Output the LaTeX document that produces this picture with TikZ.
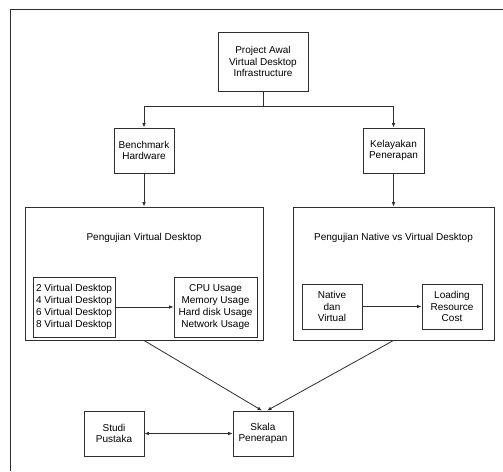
\documentclass[tikz,border=0pt]{standalone}
\usepackage{fontspec}
\setmainfont{Liberation Sans}
\usetikzlibrary{arrows.meta}
\definecolor{ln}{HTML}{2E2E2E}
\begin{document}
\begin{tikzpicture}[x=1pt,y=-1pt,
  box/.style={draw=ln,line width=0.9pt,fill=white,align=center,inner sep=0pt,
    font=\fontsize{10}{11.7}\selectfont,text=black},
  big/.style={draw=ln,line width=0.9pt,inner sep=0pt},
  lbl/.style={font=\fontsize{10}{11.7}\selectfont,inner sep=0pt},
  conn/.style={draw=ln,line width=0.8pt},
  arr/.style={conn,-{Latex[length=4.5pt,width=3.6pt]}},
  darr/.style={conn,{Latex[length=4.5pt,width=3.6pt]}-{Latex[length=4.5pt,width=3.6pt]}}]
\useasboundingbox (0,0) rectangle (503,471);
\fill[white] (0,0) rectangle (503,471);
% frame
\coordinate (fbl) at (10.7,471);
\coordinate (ftl) at (10.7,9.3);
\coordinate (ftr) at (503,9.3);
\draw[ln,line width=1pt] (fbl) -- (ftl) -- (ftr);
% top
\node[box,minimum width=90pt,minimum height=59pt] (proj) at (263,61.5) {Project Awal\\Virtual Desktop\\Infrastructure};
\node[box,minimum width=60pt,minimum height=45pt] (bench) at (144,150.5) {Benchmark\\Hardware};
\node[box,minimum width=61pt,minimum height=45pt] (kel) at (393.5,150.5) {Kelayakan\\Penerapan};
% big boxes
\node[big,minimum width=238pt,minimum height=133pt] (bigL) at (144,273.5) {};
\node[big,minimum width=201pt,minimum height=133pt] (bigR) at (393.5,273.5) {};
\node[lbl] (tL) at (144,238) {Pengujian Virtual Desktop};
\node[lbl] (tR) at (393.5,238) {Pengujian Native vs Virtual Desktop};
% inner boxes
\node[box,minimum width=82pt,minimum height=60pt,font=\fontsize{10}{12.1}\selectfont] (vd) at (74,307) {2 Virtual Desktop\\4 Virtual Desktop\\6 Virtual Desktop\\8 Virtual Desktop};
\node[box,minimum width=83pt,minimum height=60pt,font=\fontsize{10}{12.1}\selectfont] (cpu) at (215.5,307) {CPU Usage\\Memory Usage\\Hard disk Usage\\Network Usage};
\node[box,minimum width=60pt,minimum height=45pt] (nat) at (332,306.5) {Native\\dan\\Virtual};
\node[box,minimum width=60pt,minimum height=45pt] (load) at (452,306.5) {Loading\\Resource\\Cost};
% bottom
\node[box,minimum width=60pt,minimum height=45pt] (studi) at (114,433.5) {Studi\\Pustaka};
\node[box,minimum width=60pt,minimum height=45pt] (skala) at (263,433.5) {Skala\\Penerapan};
% connectors
\coordinate (j) at (263,106);
\draw[conn] (proj.south) -- (j);
\draw[arr] (j) -| (bench.north);
\draw[arr] (j) -| (kel.north);
\draw[arr] (bench.south) -- (bigL.north);
\draw[arr] (kel.south) -- (bigR.north);
\draw[arr] (vd.east) -- (cpu.west);
\draw[arr] (nat.east) -- (load.west);
\draw[arr] (bigL.south) -- ([xshift=-1pt]skala.north);
\draw[arr] (bigR.south) -- ([xshift=4pt]skala.north);
\draw[darr] (studi.east) -- (skala.west);
\end{tikzpicture}
\end{document}
